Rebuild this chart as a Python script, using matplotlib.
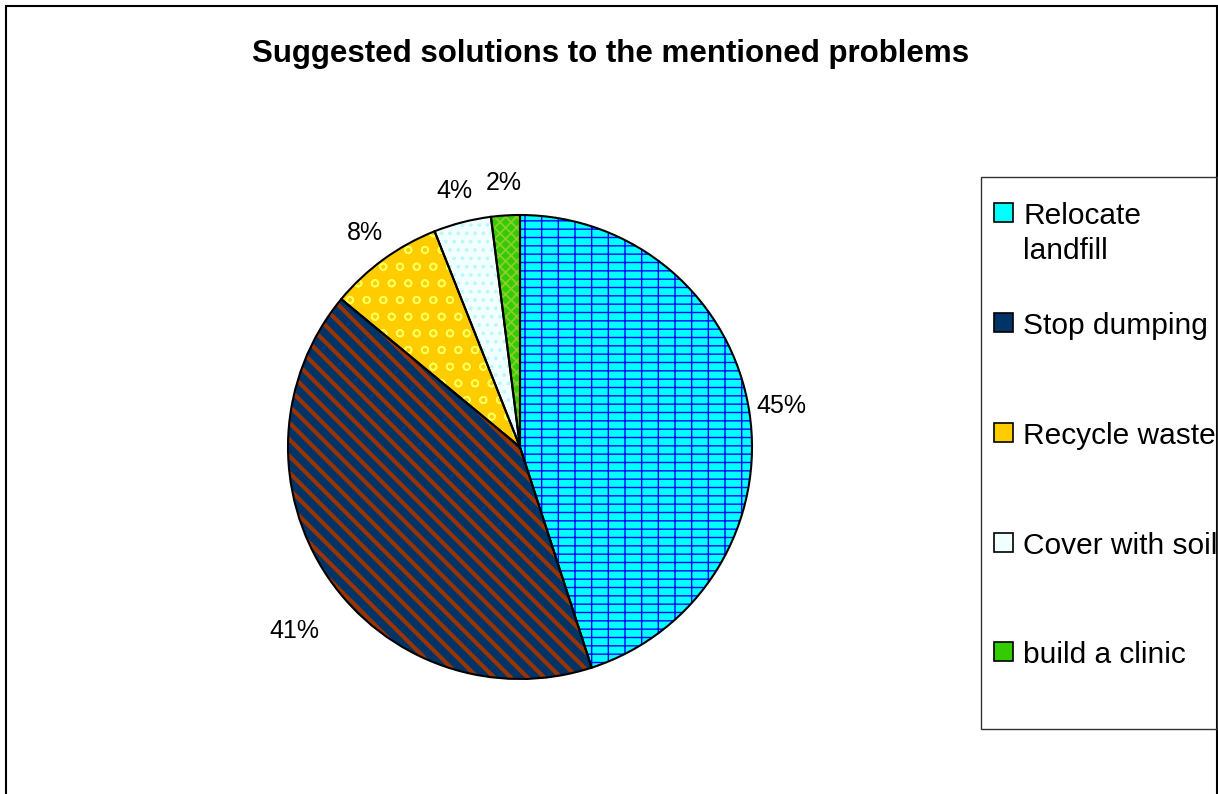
import matplotlib
matplotlib.use("Agg")
import matplotlib.pyplot as plt
from matplotlib.patches import Rectangle

plt.rcParams['font.family'] = ['Liberation Sans', 'DejaVu Sans']
plt.rcParams['hatch.linewidth'] = 1.2

W, H = 1218, 794

# --- data ---
labels = ["Relocate\nlandfill", "Stop dumping", "Recycle waste", "Cover with soil", "build a clinic"]
shares = [45, 41, 8, 4, 2]
faces = ["#00FFFF", "#003366", "#FFCC00", "#F2FFFF", "#33CC00"]
hatch_colors = ["#0000FF", "#993300", "#FFFF55", "#BDF7F7", "#8FCC33"]
hatches = ["+-", "\\\\", "o", "..", "xxx"]
hatch_widths = [1.0, 3.0, 1.2, 1.5, 1.2]


def px(x, y):
    # pixel (from top-left) -> figure fraction
    return x / W, 1 - y / H


fig = plt.figure(figsize=(W / 100, H / 100), dpi=100)
fig.patch.set_facecolor("white")

# outer chart frame
fig.add_artist(Rectangle(px(6, 820), 1211 / W, 814 / H, transform=fig.transFigure,
                         fill=False, edgecolor="black", linewidth=1.5))

# pie axes: centre (520, 447), radius 232 px
R = 232
ax = fig.add_axes([(520 - 1.5 * R) / W, (H - 447 - 1.5 * R) / H, 3 * R / W, 3 * R / H])

wedges, texts, autotexts = ax.pie(
    shares, colors=faces, startangle=90, counterclock=False,
    autopct='%1.0f%%', pctdistance=1.14,
    wedgeprops=dict(linewidth=0), textprops=dict(fontsize=18))
for w, hc, hp, hw in zip(wedges, hatch_colors, hatches, hatch_widths):
    w.set_edgecolor(hc)
    w.set_hatch(hp)
    if hasattr(w, "set_hatch_linewidth"):
        w.set_hatch_linewidth(hw)

# black outlines on top
ax.pie(shares, startangle=90, counterclock=False,
       wedgeprops=dict(edgecolor="black", linewidth=1.5, fill=False))

# the 41% label sits lower in the original
x41, y41 = autotexts[1].get_position()
autotexts[1].set_position((x41 * 1.03, y41 * 1.24))

ax.set_xlim(-1.5, 1.5)
ax.set_ylim(-1.5, 1.5)
ax.set_aspect("equal")
ax.axis("off")

fig.text(*px(611, 62), "Suggested solutions to the mentioned problems",
         ha="center", va="baseline", fontsize=22.5, fontweight="bold")

# --- legend (drawn by hand so the rows sit where they do in the original) ---
fig.add_artist(Rectangle(px(981, 729), 236 / W, 552 / H, transform=fig.transFigure,
                         fill=False, edgecolor="#333333", linewidth=1))
rows = [213, 323, 433, 543, 652]
for lab, fc, y in zip(labels, faces, rows):
    fig.add_artist(Rectangle(px(994, y + 9), 19 / W, 19 / H, transform=fig.transFigure,
                             facecolor=fc, edgecolor="black", linewidth=1.2))
    fig.text(*px(1023, y - 11), lab, ha="left", va="top", fontsize=21.5,
             linespacing=1.3)

fig.savefig("out.png", dpi=100)
